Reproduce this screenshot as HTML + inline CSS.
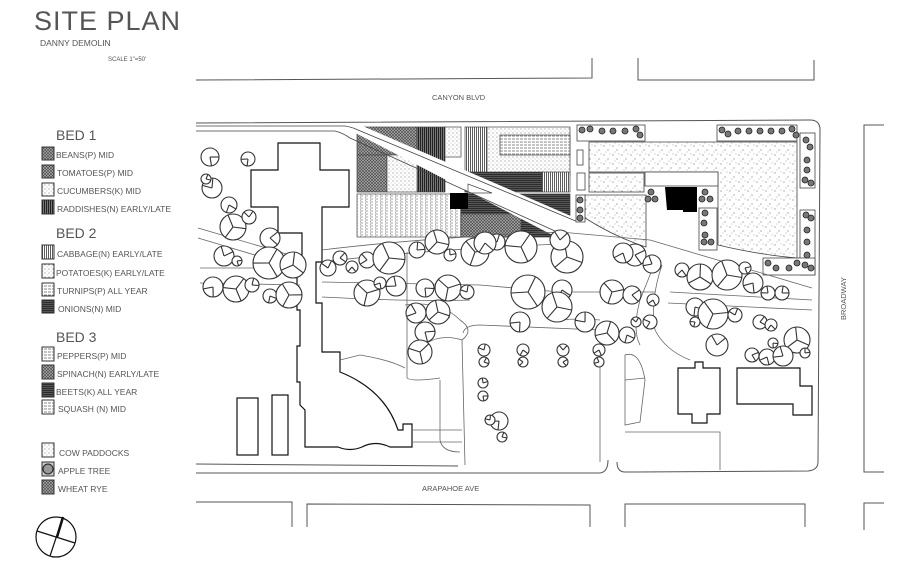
<!DOCTYPE html>
<html><head><meta charset="utf-8"><style>
html,body{margin:0;padding:0;background:#fff;}
svg{display:block;}
text{font-family:"Liberation Sans",sans-serif;fill:#555;}
</style></head><body>
<svg id="s" width="919" height="569" viewBox="0 0 919 569" xmlns="http://www.w3.org/2000/svg">
<defs>
<pattern id="pv" width="2" height="4" patternUnits="userSpaceOnUse"><rect width="2" height="4" fill="#fff"/><line x1="0.5" y1="0" x2="0.5" y2="4" stroke="#333" stroke-width="0.8"/></pattern>
<pattern id="pvd" width="2" height="4" patternUnits="userSpaceOnUse"><rect width="2" height="4" fill="#777"/><line x1="0.5" y1="0" x2="0.5" y2="4" stroke="#222" stroke-width="1"/></pattern>
<pattern id="ph" width="4" height="3" patternUnits="userSpaceOnUse"><rect width="4" height="3" fill="#fff"/><line x1="0" y1="1" x2="3" y2="1" stroke="#555" stroke-width="0.7"/></pattern>
<pattern id="phd" width="4" height="2" patternUnits="userSpaceOnUse"><rect width="4" height="2" fill="#555"/><line x1="0" y1="0.5" x2="4" y2="0.5" stroke="#222" stroke-width="0.8"/></pattern>
<pattern id="pd" width="4" height="4" patternUnits="userSpaceOnUse"><rect width="4" height="4" fill="#fff"/><circle cx="1" cy="1" r="0.5" fill="#555"/><circle cx="3" cy="3" r="0.4" fill="#777"/></pattern>
<pattern id="px" width="3" height="3" patternUnits="userSpaceOnUse"><rect width="3" height="3" fill="#aaa"/><path d="M0 0L3 3M3 0L0 3" stroke="#444" stroke-width="0.6"/></pattern>
<pattern id="pst" width="9" height="9" patternUnits="userSpaceOnUse"><rect width="9" height="9" fill="#fff"/><circle cx="1" cy="2" r="0.5" fill="#333"/><circle cx="5" cy="6" r="0.5" fill="#333"/><circle cx="7" cy="1" r="0.4" fill="#555"/><circle cx="3" cy="8" r="0.4" fill="#555"/></pattern>
<pattern id="pdh" width="5" height="3" patternUnits="userSpaceOnUse"><rect width="5" height="3" fill="#fff"/><line x1="0" y1="1" x2="3" y2="1" stroke="#666" stroke-width="0.6"/><line x1="0" y1="2.5" x2="1" y2="2.5" stroke="#666" stroke-width="0.6"/></pattern>
</defs>

<text x="34" y="30" font-size="27" style="letter-spacing:1px" fill="#333">SITE PLAN</text>
<text x="40" y="46" font-size="8.5">DANNY DEMOLIN</text>
<text x="108" y="61" font-size="6">SCALE  1"=50'</text>

<g font-size="8.5">
<text x="56" y="140" font-size="14" fill="#777">BED 1</text>
<rect x="42" y="147" width="12" height="13" fill="url(#px)" stroke="#333"/><text x="56" y="158">BEANS(P) MID</text>
<rect x="42" y="165" width="12" height="13" fill="url(#px)" stroke="#333"/><text x="57" y="176">TOMATOES(P) MID</text>
<rect x="42" y="183" width="12" height="13" fill="url(#pd)" stroke="#333"/><text x="57" y="194">CUCUMBERS(K) MID</text>
<rect x="42" y="200" width="12" height="14" fill="url(#pvd)" stroke="#333"/><text x="57" y="212">RADDISHES(N) EARLY/LATE</text>
<text x="56" y="238" font-size="14" fill="#777">BED 2</text>
<rect x="42" y="245" width="12" height="14" fill="url(#pv)" stroke="#333"/><text x="57" y="257">CABBAGE(N) EARLY/LATE</text>
<rect x="42" y="264" width="12" height="14" fill="url(#pd)" stroke="#333"/><text x="56" y="276">POTATOES(K) EARLY/LATE</text>
<rect x="42" y="283" width="12" height="13" fill="url(#ph)" stroke="#333"/><text x="57" y="294">TURNIPS(P) ALL YEAR</text>
<rect x="42" y="300" width="12" height="13" fill="url(#phd)" stroke="#333"/><text x="58" y="312">ONIONS(N) MID</text>
<text x="56" y="342" font-size="14" fill="#777">BED 3</text>
<rect x="42" y="347" width="12" height="14" fill="url(#ph)" stroke="#333"/><text x="57" y="359">PEPPERS(P) MID</text>
<rect x="42" y="365" width="12" height="14" fill="url(#px)" stroke="#333"/><text x="57" y="377">SPINACH(N) EARLY/LATE</text>
<rect x="42" y="383" width="12" height="14" fill="url(#phd)" stroke="#333"/><text x="56" y="395">BEETS(K) ALL YEAR</text>
<rect x="42" y="400" width="12" height="14" fill="url(#ph)" stroke="#333"/><text x="58" y="412">SQUASH (N) MID</text>
<rect x="42" y="443" width="12" height="14" fill="url(#pd)" stroke="#333"/><text x="59" y="456">COW PADDOCKS</text>
<rect x="42" y="462" width="12" height="14" fill="#ccc" stroke="#333"/><circle cx="48" cy="469" r="5" fill="#999" stroke="#222"/><text x="58" y="474">APPLE TREE</text>
<rect x="42" y="480" width="12" height="14" fill="url(#px)" stroke="#333"/><text x="58" y="492">WHEAT RYE</text>
</g>
<g stroke="#111" fill="none" stroke-width="1.2">
<circle cx="56" cy="537" r="20"/>
<line x1="63" y1="517" x2="50" y2="556"/><line x1="37" y1="531" x2="75" y2="543"/>
<line x1="63" y1="517" x2="57" y2="537" stroke-width="2.5"/>
</g>

<g stroke="#555" fill="none" stroke-width="1">
<polyline points="196,80 592,78 592,58"/>
<polyline points="638,58 638,80 814,80 814,60"/>
<path d="M196,123 L810,120 Q820,120 820,130 L818,462 Q818,470 808,471 L625,472 Q617,472 617,462"/>
<path d="M196,473 L600,473 Q608,472 608,460"/>
<line x1="196" y1="464" x2="458" y2="466"/>
<polyline points="196,502 292,502 292,527"/>
<polyline points="307,527 307,504 590,505 590,527"/>
<polyline points="625,527 625,504 805,504 805,527"/>
<polyline points="884,125 864,125 864,472 884,472"/>
<polyline points="884,503 864,503 864,530"/>
</g>
<text x="432" y="100" font-size="7.5">CANYON BLVD</text>
<text x="422" y="491" font-size="7.5">ARAPAHOE AVE</text>
<text x="0" y="0" font-size="7.5" transform="translate(846,320) rotate(-90)">BROADWAY</text>

<g stroke="#444" stroke-width="0.7">
<rect x="357" y="127" width="60" height="28" fill="url(#px)"/>
<rect x="417" y="127" width="28" height="65" fill="url(#pvd)"/>
<rect x="445" y="127" width="16" height="30" fill="url(#pd)"/>
<rect x="357" y="155" width="30" height="37" fill="url(#px)"/>
<rect x="387" y="155" width="30" height="37" fill="url(#pd)"/>
<rect x="465" y="127" width="22" height="65" fill="url(#pv)"/>
<rect x="487" y="127" width="83" height="48" fill="url(#pd)"/>
<rect x="500" y="135" width="70" height="20" fill="url(#ph)"/>
<rect x="465" y="172" width="77" height="20" fill="url(#phd)"/>
<rect x="542" y="172" width="28" height="20" fill="url(#pv)"/>
<rect x="357" y="194" width="104" height="43" fill="url(#pdh)"/>
<rect x="461" y="194" width="109" height="43" fill="url(#phd)"/>
<rect x="461" y="214" width="60" height="23" fill="url(#px)"/>
</g>
<polygon points="338,124 358,124 580,220 580,240 562,240" fill="#fff"/>
<polygon points="468,184 468,193 492,193" fill="#fff" stroke="#444" stroke-width="0.7"/>
<g stroke="#444" fill="none" stroke-width="0.8">
<path d="M196,126 L345,126 Q352,127 358,130 L578,222"/>
<path d="M196,131 L335,131 Q343,133 350,138 L566,236"/>
</g>
<rect x="450" y="193" width="18" height="16" fill="#000"/>
<path d="M665,187 L697,187 L697,212 L683,212 L683,210 L667,210 Z" fill="#000"/>

<g stroke="#444" stroke-width="0.8">
<path d="M589,142 L797,142 L797,258 Q760,255 718,245 L718,172 L589,172 Z" fill="url(#pst)"/>
<rect x="589" y="173" width="55" height="19" fill="url(#pst)"/>
<path d="M585,195 L646,195 L646,247 Q615,237 585,218 Z" fill="url(#pst)"/>
<rect x="577" y="125" width="68" height="16" fill="#fff"/>
<rect x="717" y="125" width="80" height="16" fill="#fff"/>
<rect x="800" y="133" width="15" height="55" fill="#fff"/>
<rect x="800" y="210" width="15" height="65" fill="#fff"/>
<rect x="763" y="258" width="52" height="17" fill="#fff"/>
<rect x="645" y="172" width="73" height="14" fill="#fff"/>
<rect x="699" y="208" width="18" height="42" fill="#fff"/>
<rect x="576" y="195" width="9" height="27" fill="#fff"/>
<rect x="577" y="150" width="6" height="15" fill="#fff"/>
<rect x="577" y="173" width="8" height="17" fill="#fff"/>
</g>
<g id="small" fill="#777" stroke="#222" stroke-width="0.8"></g>

<g stroke="#111" fill="none" stroke-width="1.2">
<path d="M278,143 L320,143 L320,170 L349,170 L349,207 L322,207 L322,262 L316,262 L316,303 L322,303 L322,352 L340,352 L340,372 Q385,390 398,430 L403,430 L403,424 L412,424 L412,447 L390,447 Q375,440 362,447 Q350,452 338,447 L305,447 L305,410 L300,405 L300,382 L297,382 L297,346 L300,346 L300,310 L297,310 L297,270 L302,270 L302,233 L278,233 L278,207 L251,207 L251,170 L278,170 Z"/>
<rect x="237" y="398" width="21" height="57"/>
<rect x="272" y="395" width="16" height="60"/>
<path d="M678,368 L695,368 L695,362 L703,362 L703,368 L720,368 L720,414 L707,414 L707,423 L692,423 L692,414 L678,414 Z"/>
<path d="M737,368 L800,368 L800,386 L812,386 L812,415 L793,415 L793,404 L737,404 Z"/>
</g>

<g stroke="#666" fill="none" stroke-width="0.8">
<path d="M198,228 L300,258"/><path d="M198,238 L298,268"/>
<path d="M200,268 L300,268"/><path d="M200,283 L300,285"/>
<path d="M322,250 Q420,238 560,232 L650,240 L812,288"/>
<path d="M322,262 Q420,250 560,244"/>
<path d="M322,282 L480,285 L560,292 L655,292"/><path d="M322,297 Q420,302 470,300"/>
<path d="M670,292 L812,300"/><path d="M668,303 L812,310"/>
<path d="M407,252 L407,378 Q412,382 440,378"/>
<path d="M405,305 Q440,300 460,320 Q475,330 462,340 Q430,330 410,360"/>
<path d="M412,316 Q440,310 450,318"/>
<path d="M340,360 L360,355 Q390,360 405,368"/>
<path d="M440,380 L440,440 Q442,452 460,452"/>
<path d="M462,340 L465,465"/>
<path d="M463,333 Q465,325 480,325 L600,330"/>
<path d="M600,330 L600,462"/>
<path d="M412,430 L462,430"/><path d="M412,442 L462,442"/>
<path d="M662,265 Q650,300 655,330 Q665,350 690,360"/>
<path d="M652,270 L640,300 Q632,330 640,345"/>
<path d="M625,355 Q640,350 645,380 L640,422 L625,425 Z"/>
<path d="M625,432 L720,432 L720,470"/>
<path d="M625,380 L645,378"/>
<path d="M560,320 Q580,318 600,320"/>
</g>
<g id="trees" fill="none" stroke="#333" stroke-width="1.1"></g>
</svg>
<script>
var T=[[210,157,9],[248,159,7],[212,188,10],[206,179,5],[229,205,8],[233,227,13],[249,217,7],[270,238,10],[269,263,16],[293,265,13],[224,256,10],[237,261,5],[213,287,10],[236,289,13],[252,285,7],[270,296,7],[289,295,13],[328,268,8],[340,258,7],[352,267,6],[367,260,8],[389,258,16],[367,293,13],[380,283,6],[396,286,10],[417,250,8],
[437,242,12],[475,252,14],[497,242,8],[521,247,16],[485,243,11],[567,257,16],[560,240,10],[635,255,11],[623,253,10],[652,264,9],[450,255,6],
[425,288,9],[448,288,13],[467,292,7],[528,292,17],[562,290,10],[557,307,15],[612,292,12],[632,295,9],[653,300,6],
[416,313,10],[438,312,12],[425,332,10],[520,322,10],[585,322,10],[607,333,12],[627,335,8],[650,322,7],[636,322,5],[420,352,12],
[682,270,7],[700,277,13],[727,275,15],[745,268,6],[753,283,10],[768,293,7],[782,293,7],[695,307,9],[713,314,15],[735,315,7],[760,322,7],[771,325,6],[797,340,13],[717,345,11],[752,355,7],[767,357,8],[783,356,10],[805,353,5],[773,343,5],[695,322,5],
[484,350,6],[484,362,5],[523,350,6],[523,362,5],[563,350,6],[563,362,5],[599,350,6],[599,362,5],[483,383,5],[483,396,5],[499,421,9],[490,420,5],[502,437,5]];
var g=document.getElementById('trees'),h='';
T.forEach(function(t,i){var x=t[0],y=t[1],r=t[2];h+='<circle cx="'+x+'" cy="'+y+'" r="'+r+'" fill="#fff"/>';
var n=r>11?3:1,a0=i*1.7;for(var k=0;k<n;k++){var a=a0+k*2.1;h+='<line x1="'+x+'" y1="'+y+'" x2="'+(x+r*Math.cos(a)).toFixed(1)+'" y2="'+(y+r*Math.sin(a)).toFixed(1)+'"/>';}
if(n==1){var b=a0+1.4;h+='<line x1="'+x+'" y1="'+y+'" x2="'+(x+r*Math.cos(b)).toFixed(1)+'" y2="'+(y+r*Math.sin(b)).toFixed(1)+'"/>';}});
g.innerHTML=h;
var S=[[582,130],[590,129],[602,131],[613,131],[625,131],[636,129],[640,135],[722,130],[728,134],[738,131],[749,131],[760,131],[771,131],[782,131],[792,129],[796,135],[806,140],[810,147],[807,160],[807,170],[805,180],[811,183],[806,215],[811,218],[807,230],[807,242],[807,255],[805,265],[811,268],[768,263],[776,268],[789,268],[797,263],[580,200],[580,210],[580,218],[651,192],[655,199],[648,199],[705,192],[710,199],[702,199],[705,213],[704,223],[705,235],[711,242],[704,242]];
var s='';S.forEach(function(p){s+='<circle cx="'+p[0]+'" cy="'+p[1]+'" r="3"/>';});
document.getElementById('small').innerHTML=s;
</script>
</body></html>
